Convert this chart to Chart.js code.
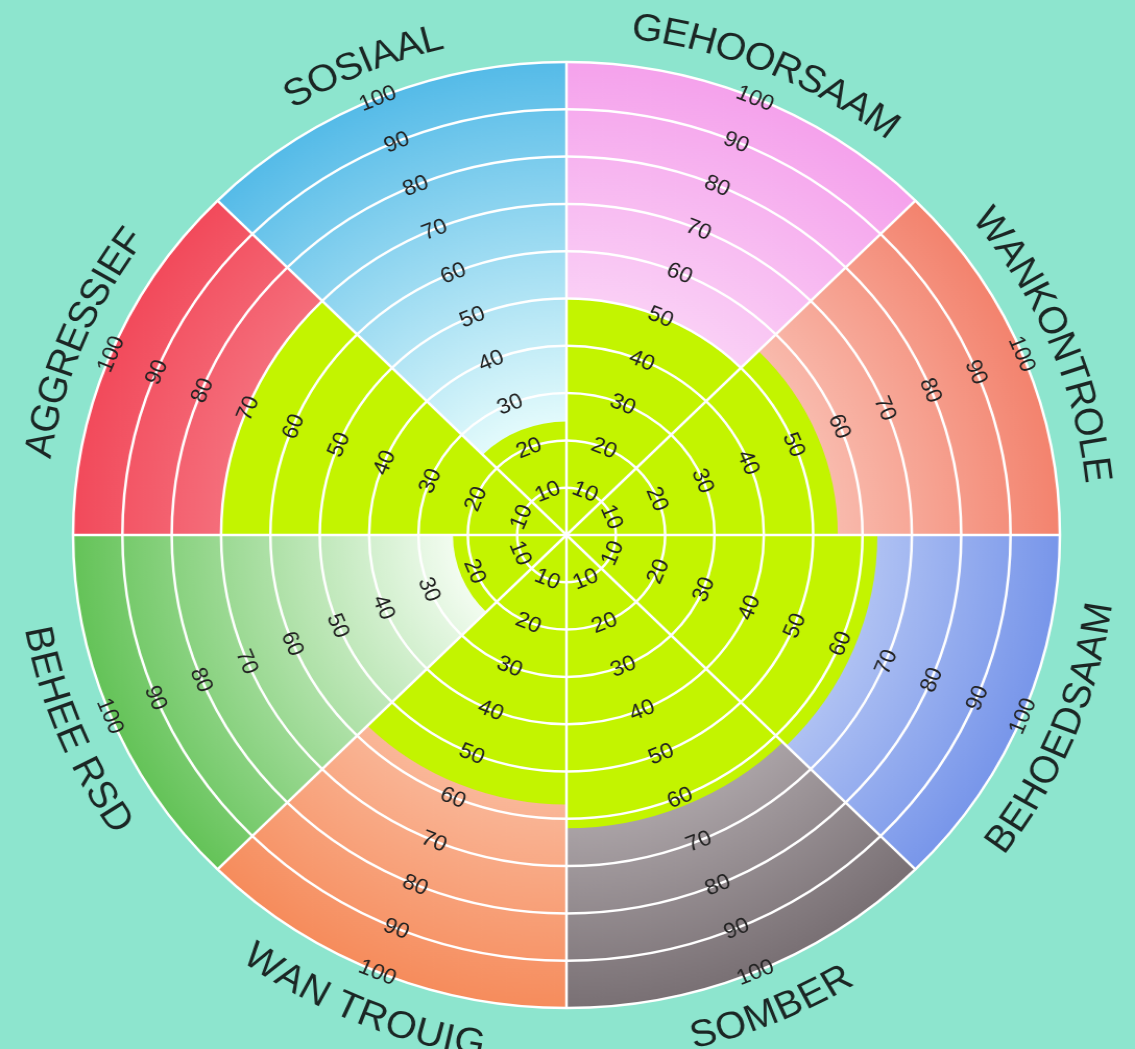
<!DOCTYPE html>
<html><head><meta charset="utf-8">
<script src="https://cdn.jsdelivr.net/npm/chart.js@4"></script>
<style>
html,body{margin:0;padding:0;background:#8de5ce;overflow:hidden;width:1135px;height:1049px}
#wrap{position:absolute;left:0;top:0;width:1088px;height:1049px;transform:scaleX(1.0432);transform-origin:0 0}
</style></head><body>
<div id="wrap"><canvas id="c"></canvas></div>
<script>
// Categories clockwise from 12 o'clock
const categories = ['GEHOORSAAM','WANKONTROLE','BEHOEDSAAM','SOMBER','WAN TROUIG','BEHEE RSD','AGGRESSIEF','SOSIAAL'];
const scores = [50, 55, 63, 62, 57, 23, 70, 24];
const fullScale = [100, 100, 100, 100, 100, 100, 100, 100];
const tickValues = [10, 20, 30, 40, 50, 60, 70, 80, 90, 100];
const innerColors = ['#fde8fb','#fde2da','#eaf0fd','#dcd6d9','#fdd9c8','#f4fdf2','#f9a6ad','#e6fcfc'];
const outerColors = ['#f5a2ec','#f3836e','#7896ea','#797074','#f68c5c','#64c358','#f24a5b','#55bbe8'];
const scoreColor = '#c3f400';

function sectorGradient(ctx) {
  const i = ctx.dataIndex;
  const chart = ctx.chart;
  const s = chart.scales.r;
  if (i === undefined || !s || !s.drawingArea) return outerColors[i || 0];
  const g = chart.ctx.createRadialGradient(s.xCenter, s.yCenter, 0, s.xCenter, s.yCenter, s.drawingArea);
  g.addColorStop(0, innerColors[i]);
  g.addColorStop(0.22, innerColors[i]);
  g.addColorStop(1, outerColors[i]);
  return g;
}

function norm(a) { while (a > Math.PI) a -= 2 * Math.PI; while (a <= -Math.PI) a += 2 * Math.PI; return a; }

const overlay = {
  id: 'overlay',
  afterDraw(chart) {
    const s = chart.scales.r;
    const ctx = chart.ctx;
    ctx.save();
    // ring value labels in the middle of each sector
    ctx.font = '22px "Liberation Sans", Arial, sans-serif';
    ctx.fillStyle = '#222222';
    ctx.textAlign = 'center';
    ctx.textBaseline = 'middle';
    categories.forEach((c, i) => {
      const th = norm(s.getIndexAngle(i + 0.5));
      const rot = Math.abs(th) < Math.PI / 2 ? th : th - Math.PI;
      tickValues.forEach(v => {
        const p = s.getPointPositionForValue(i + 0.5, v);
        ctx.save();
        ctx.translate(p.x, p.y);
        ctx.rotate(rot);
        ctx.fillText(String(v), 0, 1);
        ctx.restore();
      });
    });
    // curved category labels
    const size = 38;
    ctx.font = size + 'px "Liberation Sans", Arial, sans-serif';
    ctx.fillStyle = '#1b2624';
    ctx.textAlign = 'center';
    ctx.textBaseline = 'alphabetic';
    const r = s.drawingArea + 41;
    categories.forEach((c, i) => {
      const th = norm(s.getIndexAngle(i + 0.5));
      const upper = Math.abs(th) < Math.PI / 2;
      const chars = c.split('');
      const widths = chars.map(ch => ctx.measureText(ch).width);
      const total = widths.reduce((a, b) => a + b, 0);
      let cum = 0;
      chars.forEach((ch, k) => {
        const mid = cum + widths[k] / 2;
        cum += widths[k];
        if (ch === ' ') return;
        const a = upper ? th - total / 2 / r + mid / r : th + total / 2 / r - mid / r;
        const x = s.xCenter + r * Math.sin(a);
        const y = s.yCenter - r * Math.cos(a);
        ctx.save();
        ctx.translate(x, y);
        ctx.rotate(upper ? a : a - Math.PI);
        ctx.fillText(ch, 0, size * 0.358);
        ctx.restore();
      });
    });
    ctx.restore();
  }
};

new Chart(document.getElementById('c'), {
  type: 'polarArea',
  data: {
    labels: categories,
    datasets: [
      { label: 'Telling', data: scores, backgroundColor: scoreColor, borderWidth: 0 },
      { label: 'Skaal', data: fullScale, backgroundColor: sectorGradient, borderWidth: 0 }
    ]
  },
  options: {
    responsive: true,
    maintainAspectRatio: false,
    animation: false,
    layout: { padding: { left: 70, right: 72, top: 62, bottom: 41 } },
    plugins: { legend: { display: false }, tooltip: { enabled: false } },
    scales: {
      r: {
        min: 0, max: 100,
        startAngle: 0,
        ticks: { display: false, stepSize: 10, z: 1 },
        grid: { circular: true, color: '#ffffff', lineWidth: 2.5, z: 1 },
        angleLines: { display: true, color: '#ffffff', lineWidth: 2.5 },
        pointLabels: { display: false }
      }
    }
  },
  plugins: [overlay]
});
</script>
</body></html>
